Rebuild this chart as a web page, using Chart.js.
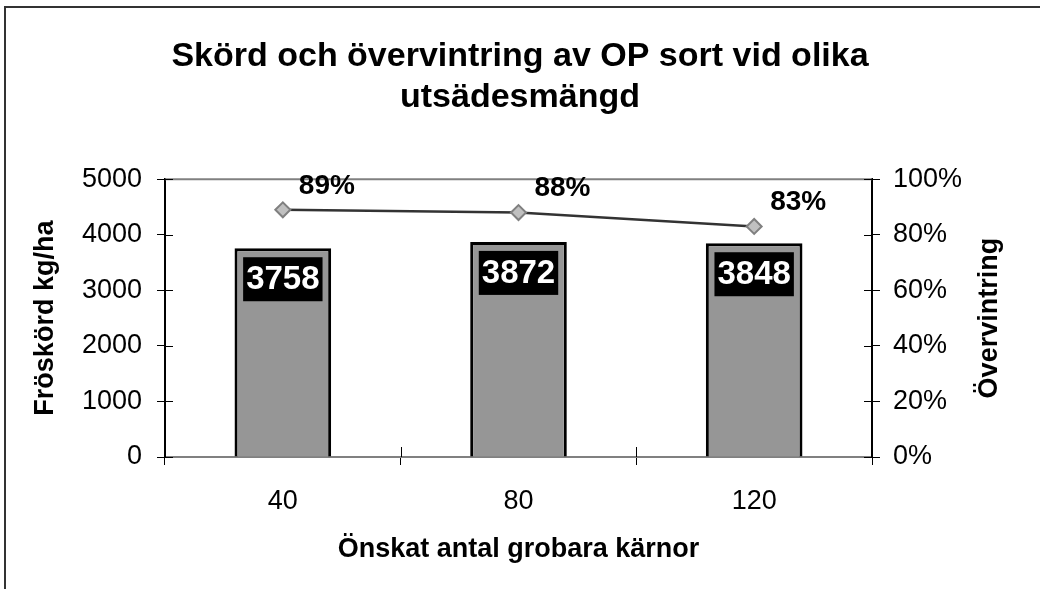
<!DOCTYPE html>
<html>
<head>
<meta charset="utf-8">
<script src="https://cdn.jsdelivr.net/npm/chart.js@4.4.1/dist/chart.umd.min.js"></script>
<style>
  html, body { margin: 0; padding: 0; background: #fff; }
  #wrap { width: 1040px; height: 589px; }
</style>
</head>
<body>
<div id="wrap"><canvas id="chart" width="1040" height="589"></canvas></div>
<script>
const categories = ['40', '80', '120'];
const yieldKgHa = [3758, 3872, 3848];
const wintering = [0.89, 0.88, 0.83];
const yieldTicks = [0, 1000, 2000, 3000, 4000, 5000];
const pctTicks = [0, 0.2, 0.4, 0.6, 0.8, 1];
const rightTitle = 'Övervintring';

const FONT = 'Arial, "Liberation Sans", sans-serif';
Chart.defaults.font.family = FONT;
Chart.defaults.color = '#000';

// frame (only top + left visible in the original), top line of plot, crossing tick marks, labels
const decor = {
  id: 'decor',
  beforeDraw(chart) {
    const ctx = chart.ctx;
    ctx.save();
    ctx.fillStyle = '#333';
    ctx.fillRect(4, 6, 1036, 2);
    ctx.fillRect(4, 6, 2, 583);
    ctx.restore();
  },
  beforeDatasetsDraw(chart) {
    const { ctx, chartArea: a, scales } = chart;
    ctx.save();
    ctx.strokeStyle = '#808080';
    ctx.lineWidth = 2;
    ctx.beginPath();
    ctx.moveTo(a.left, a.top);
    ctx.lineTo(a.right, a.top);
    ctx.stroke();

    ctx.strokeStyle = '#000';
    ctx.lineWidth = 1;
    ctx.beginPath();
    scales.y.ticks.forEach((t, i) => {
      const py = Math.round(scales.y.getPixelForTick(i)) + 0.5;
      ctx.moveTo(a.left, py); ctx.lineTo(a.left + 8, py);
    });
    scales.y1.ticks.forEach((t, i) => {
      const py = Math.round(scales.y1.getPixelForTick(i)) + 0.5;
      ctx.moveTo(a.right - 8, py); ctx.lineTo(a.right, py);
    });
    const step = (a.right - a.left) / categories.length;
    for (let i = 0; i <= categories.length; i++) {
      const px = Math.round(a.left + i * step) + 0.5;
      ctx.moveTo(px, a.bottom - 10); ctx.lineTo(px, a.bottom);
    }
    ctx.stroke();

    // right axis title, reading bottom to top like the left one
    ctx.font = 'bold 27px ' + FONT;
    ctx.fillStyle = '#000';
    ctx.textAlign = 'center';
    ctx.textBaseline = 'middle';
    ctx.translate(990, (a.top + a.bottom) / 2);
    ctx.rotate(-Math.PI / 2);
    ctx.fillText(rightTitle, 0, 0);
    ctx.restore();
  },
  afterDatasetsDraw(chart) {
    const ctx = chart.ctx;
    ctx.save();
    ctx.textAlign = 'center';
    ctx.textBaseline = 'middle';

    // bar values: white on black box
    ctx.font = 'bold 33px ' + FONT;
    chart.getDatasetMeta(0).data.forEach((bar, i) => {
      const txt = String(yieldKgHa[i]);
      const w = ctx.measureText(txt).width + 6;
      const cy = bar.y + 31;
      ctx.fillStyle = '#000';
      ctx.fillRect(bar.x - w / 2, cy - 22, w, 44);
      ctx.fillStyle = '#fff';
      ctx.fillText(txt, bar.x, cy + 1);
    });

    // line values
    ctx.font = 'bold 28px ' + FONT;
    ctx.fillStyle = '#000';
    chart.getDatasetMeta(1).data.forEach((pt, i) => {
      ctx.fillText(Math.round(wintering[i] * 100) + '%', pt.x + 44, pt.y - 24);
    });
    ctx.restore();
  }
};

new Chart(document.getElementById('chart'), {
  data: {
    labels: categories,
    datasets: [{
      type: 'bar',
      label: 'Fröskörd kg/ha',
      data: yieldKgHa,
      yAxisID: 'y',
      backgroundColor: '#969696',
      borderColor: '#000',
      borderWidth: 3,
      barPercentage: 0.41,
      categoryPercentage: 1,
      order: 1
    }, {
      type: 'line',
      label: rightTitle,
      data: wintering,
      yAxisID: 'y1',
      borderColor: '#333',
      borderWidth: 2.5,
      pointStyle: 'rectRot',
      pointRadius: 7.5,
      pointBackgroundColor: '#c0c0c0',
      pointBorderColor: '#808080',
      pointBorderWidth: 2,
      tension: 0,
      order: 0
    }]
  },
  options: {
    responsive: false,
    devicePixelRatio: 1,
    animation: false,
    layout: { padding: 0 },
    plugins: {
      legend: { display: false },
      tooltip: { enabled: false },
      title: {
        display: true,
        text: ['Skörd och övervintring av OP sort vid olika', 'utsädesmängd'],
        color: '#000',
        font: { size: 34, weight: 'bold', lineHeight: 1.18 },
        padding: { top: 37, bottom: 62 }
      }
    },
    scales: {
      x: {
        grid: { offset: true, drawOnChartArea: false, tickLength: 8, color: '#000', lineWidth: 1 },
        border: { color: '#808080', width: 2 },
        ticks: { font: { size: 27 }, color: '#000', padding: 20 },
        title: {
          display: true, text: 'Önskat antal grobara kärnor', color: '#000',
          font: { size: 27, weight: 'bold', lineHeight: 1.2 }, padding: { top: 0, bottom: 23 }
        },
        afterFit(scale) { scale.height = 132; }
      },
      y: {
        position: 'left',
        min: 0, max: 5000,
        afterBuildTicks(scale) { scale.ticks = yieldTicks.map(v => ({ value: v })); },
        grid: { drawOnChartArea: false, tickLength: 8, color: '#000', lineWidth: 1 },
        border: { color: '#000', width: 2 },
        ticks: { font: { size: 27 }, color: '#000', padding: 15, callback: v => String(v) },
        title: {
          display: true, text: 'Fröskörd kg/ha', color: '#000',
          font: { size: 27, weight: 'bold', lineHeight: 1.2 }, padding: { top: 29, bottom: 0 }
        },
        afterFit(scale) { scale.width = 165; }
      },
      y1: {
        position: 'right',
        min: 0, max: 1,
        afterBuildTicks(scale) { scale.ticks = pctTicks.map(v => ({ value: v })); },
        grid: { drawOnChartArea: false, tickLength: 8, color: '#000', lineWidth: 1 },
        border: { color: '#000', width: 2 },
        ticks: {
          font: { size: 27 }, color: '#000', padding: 13,
          callback: v => Math.round(v * 100) + '%'
        },
        afterFit(scale) { scale.width = 168; }
      }
    }
  },
  plugins: [decor]
});
</script>
</body>
</html>
